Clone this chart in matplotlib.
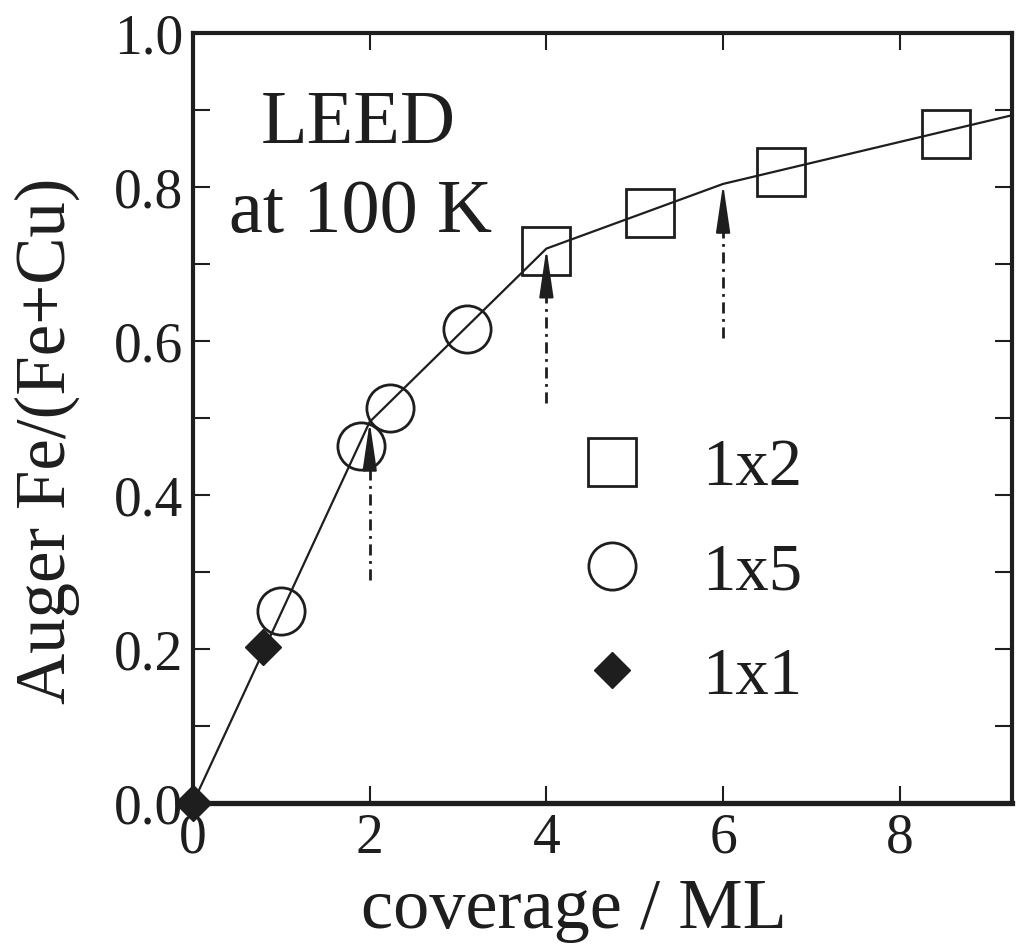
import matplotlib
matplotlib.use("Agg")
import matplotlib.pyplot as plt
from matplotlib.lines import Line2D
from matplotlib.ticker import MultipleLocator

plt.rcParams['font.family'] = ['Liberation Serif', 'DejaVu Serif']

# ---- data ----
x1x1 = [0.0, 0.79]
y1x1 = [0.0, 0.203]
x1x5 = [1.0, 1.90, 2.23, 3.10]
y1x5 = [0.249, 0.463, 0.513, 0.616]
x1x2 = [4.0, 5.17, 6.65, 8.52]
y1x2 = [0.717, 0.766, 0.820, 0.869]
fit_x = [0.0, 2.0, 4.0, 6.0, 9.3]
fit_y = [0.0, 0.495, 0.720, 0.804, 0.894]
arrow_x = [2.0, 4.0, 6.0]
arrow_bottom = [0.29, 0.52, 0.604]
arrow_top = [0.495, 0.720, 0.804]
xticks = [0, 2, 4, 6, 8]
yticks = [0.0, 0.2, 0.4, 0.6, 0.8, 1.0]

ink = '#1e1e1e'
fig = plt.figure(figsize=(10.16, 9.48), dpi=100)
ax = fig.add_axes([193/1016, 1-803/948, 819/1016, 770/948])

ax.plot(fit_x, fit_y, '-', color=ink, lw=1.6, zorder=2)

for xa, yb, yt in zip(arrow_x, arrow_bottom, arrow_top):
    head = 0.055
    ax.plot([xa, xa], [yb, yt - head], color=ink, lw=2.0,
            dashes=(4, 2, 1, 2), zorder=2)
    ax.annotate('', xy=(xa, yt), xytext=(xa, yt - head - 0.005),
                arrowprops=dict(arrowstyle='-|>,head_length=1.5,head_width=0.22',
                                color=ink, lw=1.5, mutation_scale=20,
                                shrinkA=0, shrinkB=0), zorder=3)

ms = 34
ax.plot(x1x2, y1x2, 's', ms=ms, mfc='none', mec=ink, mew=2.0, ls='none',
        clip_on=False, zorder=4)
ax.plot(x1x5, y1x5, 'o', ms=ms, mfc='none', mec=ink, mew=2.0, ls='none',
        clip_on=False, zorder=4)
ax.plot(x1x1, y1x1, 'D', ms=18, mfc=ink, mec=ink, mew=1.0, ls='none',
        clip_on=False, zorder=5)

ax.set_xlim(0, 9.27)
ax.set_ylim(0, 1.0)
ax.set_xticks(xticks)
ax.set_xticklabels([str(v) for v in xticks])
ax.set_yticks(yticks)
ax.set_yticklabels([f'{v:.1f}' for v in yticks])
ax.yaxis.set_minor_locator(MultipleLocator(0.1))

ax.tick_params(axis='both', which='both', direction='in', color=ink,
               top=True, right=True, labelcolor=ink, labelsize=40)
ax.tick_params(axis='both', which='major', length=12, width=1.5)
ax.tick_params(axis='y', which='minor', length=12, width=1.5)
ax.tick_params(axis='y', which='major', pad=7)
ax.tick_params(axis='x', which='major', pad=7)
for s in ax.spines.values():
    s.set_linewidth(3.0)
    s.set_color(ink)
ax.spines['bottom'].set_linewidth(3.8)

ax.set_xlabel('coverage / ML', fontsize=52, color=ink)
ax.xaxis.set_label_coords(0.465, -0.098)
ax.set_ylabel('Auger Fe/(Fe+Cu)', fontsize=51, color=ink)
ax.yaxis.set_label_coords(-0.138, 0.471)

ax.text(0.2015, 0.857, 'LEED', transform=ax.transAxes, ha='center',
        va='baseline', fontsize=55, color=ink)
ax.text(0.204, 0.742, 'at 100 K', transform=ax.transAxes, ha='center',
        va='baseline', fontsize=55, color=ink)

handles = [
    Line2D([], [], marker='s', ms=ms, mfc='none', mec=ink, mew=2.0, ls='none'),
    Line2D([], [], marker='o', ms=ms, mfc='none', mec=ink, mew=2.0, ls='none'),
    Line2D([], [], marker='D', ms=18, mfc=ink, mec=ink, ls='none'),
]
ax.legend(handles, ['1x2', '1x5', '1x1'], loc='upper left',
          bbox_to_anchor=(0.471, 0.474), frameon=False, fontsize=48,
          handlelength=1.0, handletextpad=0.85, labelspacing=0.65,
          borderpad=0, borderaxespad=0, labelcolor=ink)

fig.savefig('out.png', dpi=100)
